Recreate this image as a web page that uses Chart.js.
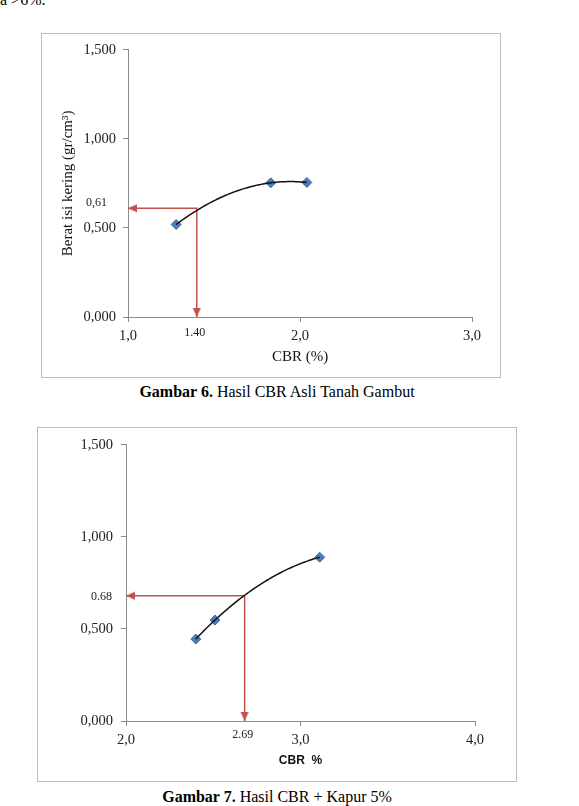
<!DOCTYPE html>
<html>
<head>
<meta charset="utf-8">
<script src="https://cdn.jsdelivr.net/npm/chart.js@4"></script>
<style>
  body {
    margin: 0;
    width: 579px;
    height: 806px;
    position: relative;
    overflow: hidden;
    background: #fff;
    font-family: "Liberation Serif", "Times New Roman", serif;
    color: #000;
  }
  .frame {
    position: absolute;
    border: 1px solid #bdbdbd;
    box-sizing: border-box;
  }
  .caption {
    position: absolute;
    left: 0;
    width: 554px;
    text-align: center;
    font-size: 16px;
    line-height: 18px;
  }
  .top-text {
    position: absolute;
    left: 0;
    top: -9px;
    font-size: 16px;
  }
</style>
</head>
<body>
<div class="top-text">a &gt;6%.</div>

<div class="frame" style="left:41px; top:33px; width:460px; height:345px;">
  <canvas id="chart-asli"></canvas>
</div>
<div class="caption" style="top:383px;"><b>Gambar 6.</b> Hasil CBR Asli Tanah Gambut</div>

<div class="frame" style="left:37px; top:427px; width:480px; height:355px;">
  <canvas id="chart-kapur"></canvas>
</div>
<div class="caption" style="top:788px;"><b>Gambar 7.</b> Hasil CBR + Kapur 5%</div>

<script>
// Gambar 6 - CBR asli tanah gambut
let cbrAsli = [1.28, 1.83, 2.04];
let beratAsli = [0.519, 0.753, 0.755];
let guideAsliX = [1.0, 1.40, 1.40];
let guideAsliY = [0.61, 0.61, 0];
let readAsli = ["0,61", "1.40"];

// Gambar 7 - CBR + kapur 5%
let cbrKapur = [2.40, 2.51, 3.11];
let beratKapur = [0.445, 0.548, 0.889];
let guideKapurX = [2.0, 2.68, 2.68];
let guideKapurY = [0.68, 0.68, 0];
let readKapur = ["0.68", "2.69"];

const serif = "'Liberation Serif', 'Times New Roman', serif";
const axisGray = "#8c8c8c";
const markerBlue = "#4a7ebb";
const arrowRed = "#c0504d";

Chart.defaults.font.family = serif;
Chart.defaults.color = "#222";

// arrow head with its tip at the centre of the image, pointing up
let arrowHead = document.createElement("canvas");
arrowHead.width = 18;
arrowHead.height = 18;
let ah = arrowHead.getContext("2d");
ah.fillStyle = arrowRed;
ah.beginPath();
ah.moveTo(9, 9);
ah.lineTo(5, 18);
ah.lineTo(13, 18);
ah.closePath();
ah.fill();

const toPoints = (xs, ys) => xs.map((x, i) => ({ x: x, y: ys[i] }));
const commaFmt = (digits) => (v) => Number(v).toFixed(digits).replace(".", ",");

// least squares fit y = a + b x + c x^2 (like the excel poly trendline)
function quadFit(xs, ys) {
  let s = [0, 0, 0, 0, 0], t = [0, 0, 0];
  xs.forEach((x, i) => {
    for (let k = 0; k < 5; k++) s[k] += Math.pow(x, k);
    for (let k = 0; k < 3; k++) t[k] += ys[i] * Math.pow(x, k);
  });
  let m = [
    [s[0], s[1], s[2], t[0]],
    [s[1], s[2], s[3], t[1]],
    [s[2], s[3], s[4], t[2]],
  ];
  for (let i = 0; i < 3; i++) {
    for (let j = i + 1; j < 3; j++) {
      let f = m[j][i] / m[i][i];
      for (let k = i; k < 4; k++) m[j][k] -= f * m[i][k];
    }
  }
  let c = [0, 0, 0];
  for (let i = 2; i >= 0; i--) {
    let v = m[i][3];
    for (let k = i + 1; k < 3; k++) v -= m[i][k] * c[k];
    c[i] = v / m[i][i];
  }
  return c;
}

// black polynomial trendline over the marker dataset
const polyTrend = {
  id: "polyTrend",
  afterDatasetsDraw(chart, args, opts) {
    const data = chart.data.datasets[opts.datasetIndex].data;
    const xs = data.map((p) => p.x);
    const c = quadFit(xs, data.map((p) => p.y));
    const x0 = Math.min(...xs), x1 = Math.max(...xs);
    const { ctx } = chart;
    const sx = chart.scales.x, sy = chart.scales.y;
    ctx.save();
    ctx.strokeStyle = opts.color;
    ctx.lineWidth = opts.width;
    ctx.beginPath();
    for (let i = 0; i <= 80; i++) {
      let v = x0 + (x1 - x0) * i / 80;
      let px = sx.getPixelForValue(v);
      let py = sy.getPixelForValue(c[0] + c[1] * v + c[2] * v * v);
      if (i === 0) ctx.moveTo(px, py); else ctx.lineTo(px, py);
    }
    ctx.stroke();
    ctx.restore();
  },
};

// small labels for the read-off values next to the axes
const readoutLabels = {
  id: "readoutLabels",
  afterDraw(chart, args, opts) {
    const { ctx, chartArea } = chart;
    const x = chart.scales.x;
    const y = chart.scales.y;
    ctx.save();
    ctx.font = "12px " + serif;
    ctx.fillStyle = "#222";
    ctx.textBaseline = "middle";
    ctx.textAlign = "right";
    ctx.fillText(opts.labels[0], chartArea.left - opts.yGap, y.getPixelForValue(opts.yValue) + opts.yShift);
    ctx.textAlign = "center";
    ctx.fillText(opts.labels[1], x.getPixelForValue(opts.xValue) - 2, chartArea.bottom + opts.xDrop);
    ctx.restore();
  },
};

function makeChart(el, s) {
  return new Chart(el.getContext("2d"), {
    type: "scatter",
    data: {
      datasets: [
        {
          label: "data",
          data: toPoints(s.cbr, s.berat),
          pointStyle: "rectRot",
          pointRadius: 5,
          backgroundColor: markerBlue,
          borderColor: "#3b6aa3",
          borderWidth: 1,
        },
        {
          label: "guide",
          data: toPoints(s.guideX, s.guideY),
          showLine: true,
          borderColor: arrowRed,
          borderWidth: 1.5,
          pointStyle: [arrowHead, "circle", arrowHead],
          pointRadius: [4, 0, 4],
          pointRotation: [-90, 0, 180],
          clip: false,
        },
      ],
    },
    options: {
      responsive: true,
      maintainAspectRatio: false,
      animation: false,
      layout: { padding: { left: 0, top: s.padTop, right: s.padRight, bottom: 0 } },
      plugins: {
        legend: { display: false },
        tooltip: { enabled: false },
        readoutLabels: s.readout,
        polyTrend: { datasetIndex: 0, color: "#111", width: 1.5 },
      },
      scales: {
        x: {
          type: "linear",
          min: s.xMin,
          max: s.xMax,
          afterFit: (scale) => { scale.height = 60; },
          ticks: { stepSize: 1, padding: 5, font: { size: 14.5 }, callback: commaFmt(1) },
          grid: { drawOnChartArea: false, tickLength: 5, color: axisGray },
          border: { display: true, color: axisGray },
          title: s.xTitle,
        },
        y: {
          min: 0,
          max: 1.5,
          afterFit: (scale) => { scale.width = s.yWidth; },
          ticks: { stepSize: 0.5, padding: s.yTickPad, font: { size: 14.5 }, callback: commaFmt(3) },
          grid: { drawOnChartArea: false, tickLength: 5, color: axisGray },
          border: { display: true, color: axisGray },
          title: s.yTitle,
        },
      },
    },
    plugins: [polyTrend, readoutLabels],
  });
}

makeChart(document.getElementById("chart-asli"), {
  cbr: cbrAsli,
  berat: beratAsli,
  guideX: guideAsliX,
  guideY: guideAsliY,
  xMin: 1,
  xMax: 3,
  padTop: 12,
  padRight: 28,
  yWidth: 86,
  yTickPad: 7,
  readout: { labels: readAsli, yValue: guideAsliY[0], xValue: guideAsliX[1], yGap: 21, yShift: -5, xDrop: 16 },
  xTitle: {
    display: true,
    text: "CBR (%)",
    color: "#111",
    font: { size: 15 },
    padding: { top: 0, bottom: 11 },
  },
  yTitle: {
    display: true,
    text: "Berat isi kering (gr/cm³)",
    color: "#111",
    font: { size: 15 },
    padding: { top: 17, bottom: 0 },
  },
});

makeChart(document.getElementById("chart-kapur"), {
  cbr: cbrKapur,
  berat: beratKapur,
  guideX: guideKapurX,
  guideY: guideKapurY,
  xMin: 2,
  xMax: 4,
  padTop: 13,
  padRight: 41,
  yWidth: 88,
  yTickPad: 8,
  readout: { labels: readKapur, yValue: guideKapurY[0], xValue: guideKapurX[1], yGap: 14, yShift: 1, xDrop: 14 },
  xTitle: {
    display: true,
    text: "CBR  %",
    color: "#111",
    font: { family: "'Liberation Sans', Arial, sans-serif", size: 12, weight: "bold" },
    padding: { top: 0, bottom: 13 },
  },
  yTitle: { display: false },
});
</script>
</body>
</html>
